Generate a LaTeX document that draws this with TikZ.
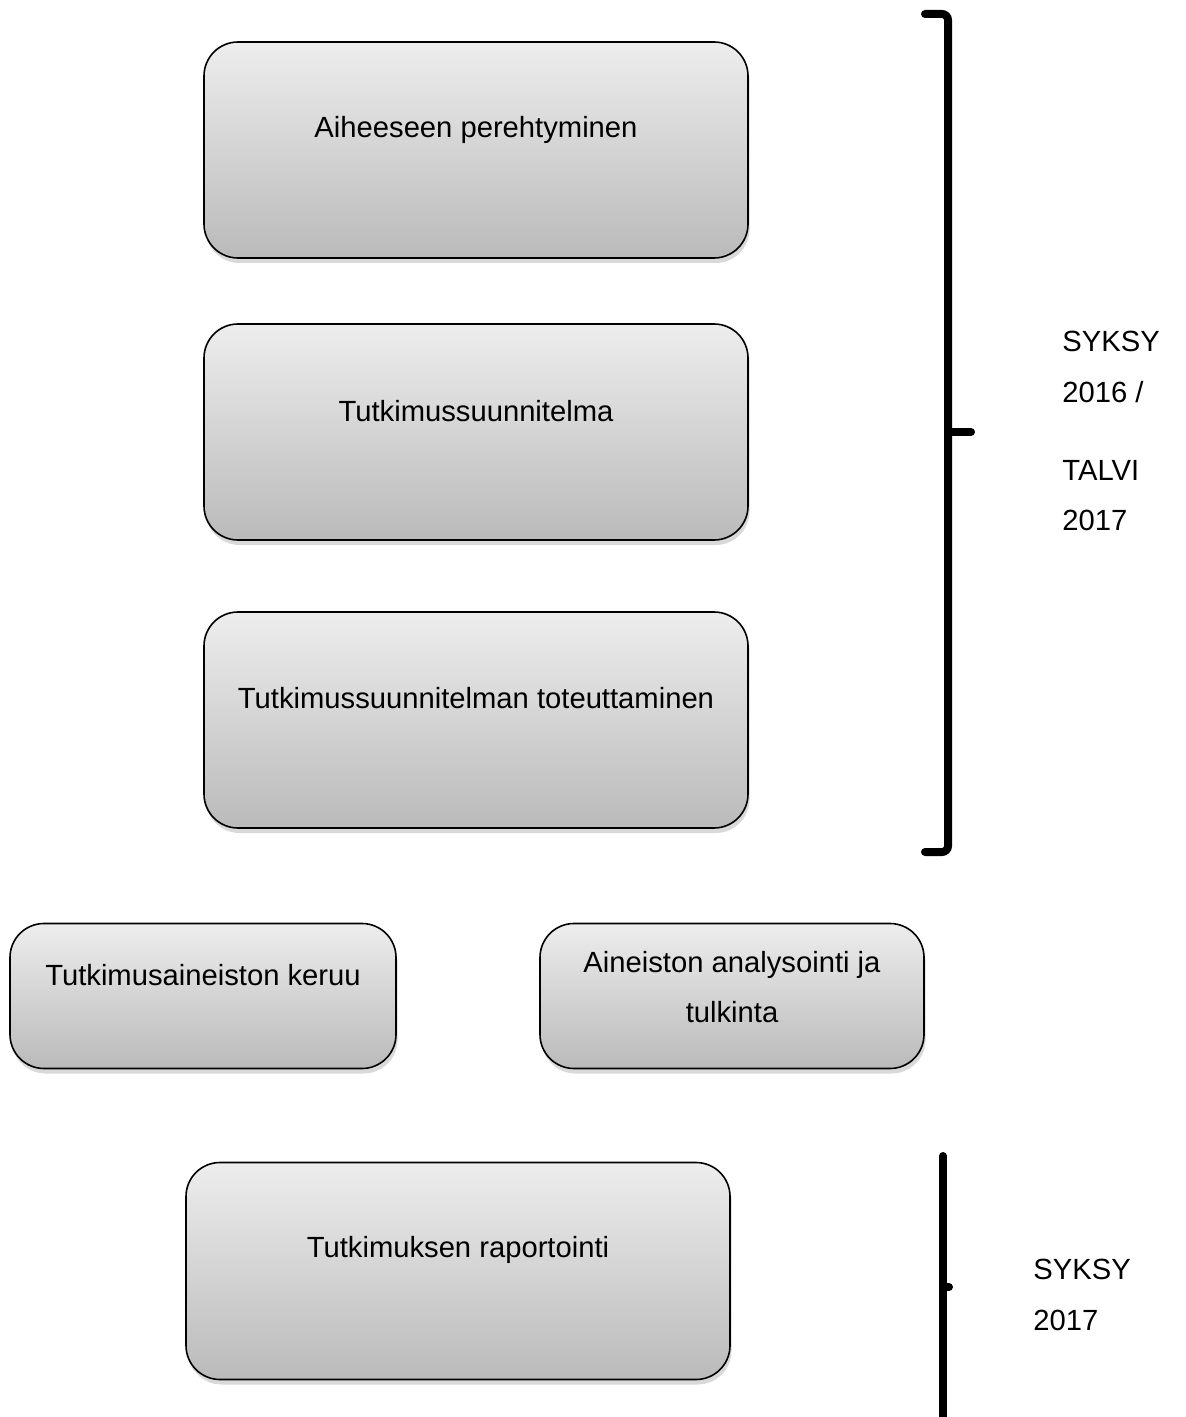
\documentclass[tikz,border=0pt]{standalone}
\usepackage{fontspec}
\setmainfont{Liberation Sans}
\usetikzlibrary{shadows}

\begin{document}
\begin{tikzpicture}[x=0.5pt,y=-0.5pt,
    phase/.style={draw=black, line width=0.8pt, rounded corners=17pt,
      top color=black!7, bottom color=black!27,
      drop shadow={shadow xshift=0.8pt, shadow yshift=-2.5pt, opacity=0.3}},
    phasetext/.style={font=\fontsize{14.6}{25}\selectfont, align=center, inner sep=0pt},
    timetext/.style={font=\fontsize{14.6}{25}\selectfont, anchor=west, inner sep=0pt},
    bracket/.style={line width=4pt, line cap=round, rounded corners=3pt}]
    \useasboundingbox (0,0) rectangle (1186,1417);
    % Drawing phase boxes
    \foreach \name/\cx/\cy/\w/\h in {aihe/476/150/544/216, suunn/476/432/544/216,
        toteut/476/720/544/216, keruu/203/996/386/145, analyysi/732/996/384/145,
        raportti/458/1271/544/217}{
      \node[phase, minimum width=\w*0.5pt, minimum height=\h*0.5pt] (\name) at (\cx,\cy) {};
    }
    % Texts of the boxes
    \node[phasetext] (aihe-t) at (476,130) {Aiheeseen perehtyminen};
    \node[phasetext] (suunn-t) at (476,411) {Tutkimussuunnitelma};
    \node[phasetext] (toteut-t) at (476,698) {Tutkimussuunnitelman toteuttaminen};
    \node[phasetext] (keruu-t) at (203,975) {Tutkimusaineiston keruu};
    \node[phasetext] (analyysi-t) at (732,987) {Aineiston analysointi ja\\tulkinta};
    \node[phasetext] (raportti-t) at (458,1250) {Tutkimuksen raportointi};
    % Drawing brackets
    \draw[bracket] (925,14) -- (948,14) -- (948,852) -- (925,852);
    \draw[bracket] (948,432) -- (971,432);
    \draw[bracket] (943,1156) -- (943,1420);
    \draw[bracket] (943,1287) -- (949,1287);
    % Time labels
    \node[timetext] (syksy1) at (1062,341) {SYKSY};
    \node[timetext] (vuosi1) at (1062,392) {2016 /};
    \node[timetext] (talvi) at (1062,470) {TALVI};
    \node[timetext] (vuosi2) at (1062,520) {2017};
    \node[timetext] (syksy2) at (1033,1269) {SYKSY};
    \node[timetext] (vuosi3) at (1033,1320) {2017};
\end{tikzpicture}
\end{document}
